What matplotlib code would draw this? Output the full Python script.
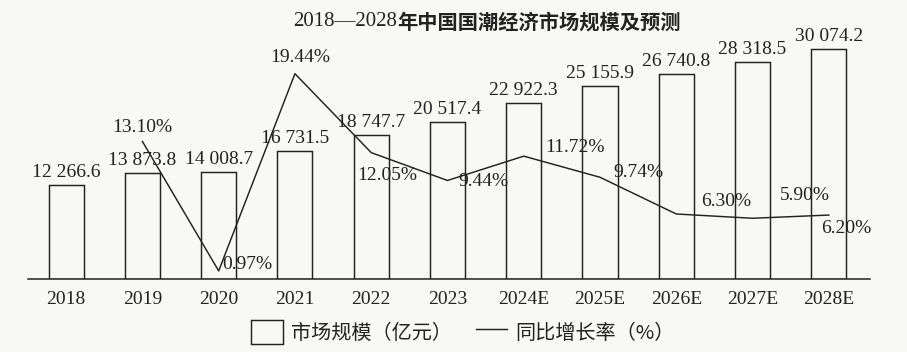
import matplotlib

matplotlib.use("Agg")
import matplotlib.pyplot as plt
from matplotlib.lines import Line2D
from matplotlib.patches import Patch

years = ["2018", "2019", "2020", "2021", "2022", "2023",
         "2024E", "2025E", "2026E", "2027E", "2028E"]
market_size = [12266.6, 13873.8, 14008.7, 16731.5, 18747.7, 20517.4,
               22922.3, 25155.9, 26740.8, 28318.5, 30074.2]
growth_years = years[1:]
growth_rate = [13.10, 0.97, 19.44, 12.05, 9.44, 11.72, 9.74, 6.30, 5.90, 6.20]

title_years = "2018—2028"
title_rest = "年中国国潮经济市场规模及预测"

SERIF = "Liberation Serif"
INK = "#222222"
BG = "#f8f8f5"


def fmt_size(v):
    whole, frac = f"{v:.1f}".split(".")
    n = int(whole)
    return f"{n // 1000} {n % 1000:03d}.{frac}"


fig = plt.figure(figsize=(9.07, 3.52), dpi=100, facecolor=BG)
ax = fig.add_axes([28 / 907, 1 - 279 / 352, 842 / 907, 239 / 352])
ax.set_facecolor("none")

x = list(range(len(years)))
ax.bar(x, market_size, width=0.46, facecolor="none", edgecolor=INK, linewidth=1.05)
for xi, v in zip(x, market_size):
    ax.annotate(fmt_size(v), (xi, v), xytext=(0, 4), textcoords="offset pixels",
                ha="center", va="bottom", fontsize=14, family=SERIF, color=INK)

ax.set_xlim(-0.5, 10.54)
ax.set_ylim(0, 31190)
ax.set_xticks(x)
ax.set_xticklabels(years, fontsize=14, family=SERIF, color=INK)
ax.tick_params(axis="x", length=0, pad=9)
ax.set_yticks([])
for side in ["top", "left", "right"]:
    ax.spines[side].set_visible(False)
ax.spines["bottom"].set_color(INK)
ax.spines["bottom"].set_linewidth(1.1)

ax2 = ax.twinx()
ax2.set_ylim(0.21, 22.6)
ax2.set_yticks([])
for side in ["top", "left", "right", "bottom"]:
    ax2.spines[side].set_visible(False)
gx = x[1:]
ax2.plot(gx, growth_rate, color=INK, linewidth=1.05)

# label offsets in pixels, as placed in the source
label_offsets = [(0, 14), (29, 6), (5, 16), (16, -23), (36, -1),
                 (51, 9), (38, 5), (50, 12), (52, 23), (17, -13)]
for xi, v, (dx, dy) in zip(gx, growth_rate, label_offsets):
    ax2.annotate(f"{v:.2f}%", (xi, v), xytext=(dx, dy), textcoords="offset pixels",
                 ha="center", va="center", fontsize=14, family=SERIF, color=INK)

# title: serif years + bold hei characters
fig.text(397 / 907, 1 - 22 / 352, title_years, ha="right", va="center",
         fontsize=15, family=SERIF, color=INK)
fig.text(397 / 907, 1 - 22 / 352, title_rest, ha="left", va="center",
         fontsize=14.6, family="Noto Sans CJK SC", color=INK, weight="bold")

handles = [Patch(facecolor="none", edgecolor=INK, linewidth=1.05),
           Line2D([], [], color=INK, linewidth=1.05)]
fig.legend(handles, ["市场规模（亿元）", "同比增长率（%）"], loc="center",
           bbox_to_anchor=(463 / 907, 1 - 332 / 352), ncol=2, frameon=False,
           prop={"family": "Noto Sans CJK SC", "size": 14.5},
           handlelength=1.55, handleheight=1.45, handletextpad=0.4,
           columnspacing=1.2, labelcolor=INK)

fig.savefig("out.png", dpi=100, facecolor=BG)
